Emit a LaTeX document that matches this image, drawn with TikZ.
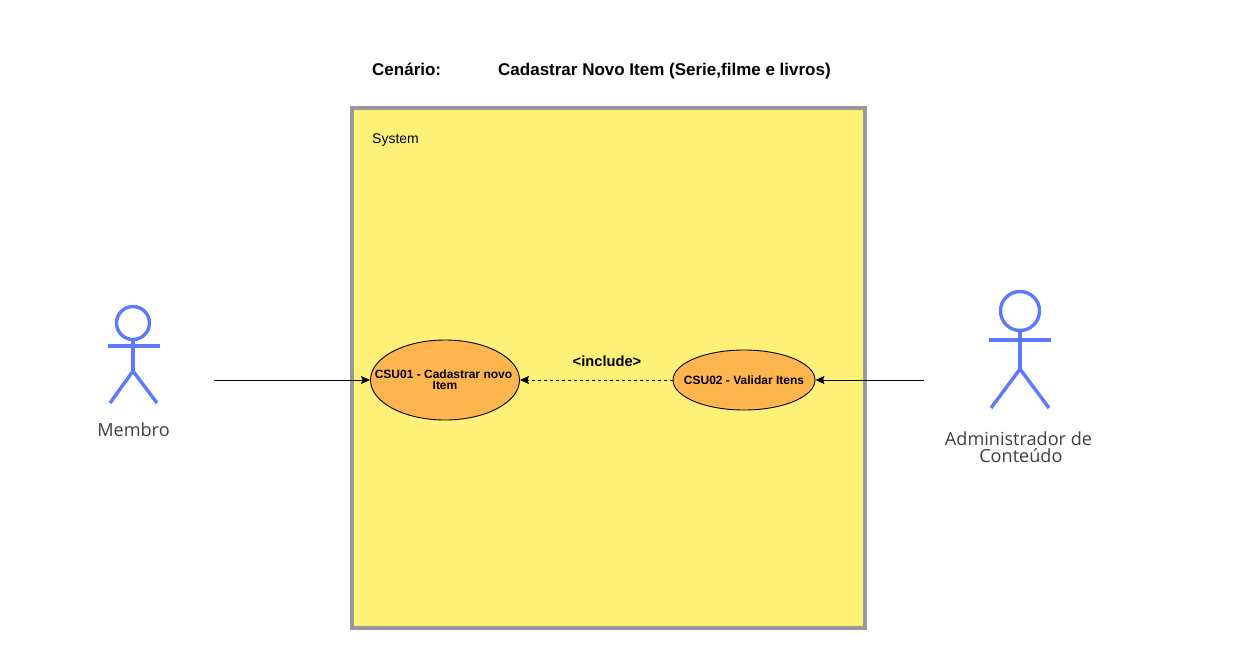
\documentclass[tikz,border=0pt]{standalone}
\usepackage{fontspec}
\setmainfont{Liberation Sans}
\newfontfamily\actorfont{Open Sans}
\usetikzlibrary{arrows.meta,shapes.geometric}
\definecolor{sysfill}{RGB}{255,241,120}
\definecolor{sysline}{RGB}{153,153,153}
\definecolor{casefill}{RGB}{255,181,77}
\definecolor{actorline}{RGB}{92,122,255}
\definecolor{actortext}{RGB}{64,64,64}
\tikzset{
  usecase/.style={draw=black,fill=casefill,ellipse,inner ysep=0pt,inner xsep=-20pt,line width=0.9pt,align=center,font=\fontsize{12}{12}\selectfont\bfseries},
  actor/.style={draw=actorline,line width=3.4pt},
  actorlabel/.style={text=actortext,align=center,inner sep=0pt,font=\actorfont\fontsize{18.1}{18}\selectfont},
  assoc/.style={-{Stealth[length=9pt,width=8pt,inset=1.5pt]},line width=0.8pt},
  titletext/.style={anchor=base west,inner sep=0pt,font=\fontsize{17}{18}\selectfont\bfseries},
}
\begin{document}
\begin{tikzpicture}[x=1pt,y=-1pt]
      \useasboundingbox (0,0) rectangle (1250,665);
      % system box
      \draw[draw=sysline,fill=sysfill,line width=4pt] (352,108) rectangle (865,628);
      \node[anchor=base west,inner sep=0pt,font=\fontsize{14}{16}\selectfont] (system) at (372,143) {System};
      \node[titletext] (cenario) at (372,75) {Cenário:};
      \node[titletext] (titulo) at (498,75) {Cadastrar Novo Item (Serie,filme e livros)};
      % use cases
      \node[usecase,minimum width=149pt,minimum height=80pt] (csu01) at (445,380) {CSU01 - Cadastrar novo\hspace*{3pt}\\[-1pt]Item};
      \node[usecase,minimum width=142pt,minimum height=60pt] (csu02) at (744,380) {CSU02 - Validar Itens};
      \node[inner sep=0pt,font=\fontsize{14.7}{16}\selectfont\bfseries] (include) at (607,361) {<include>};
      % left actor
      \draw[actor] (133,323) circle (16.5);
      \draw[actor] (108,346) -- (160,346);
      \draw[actor] (133,340) -- (133,371);
      \draw[actor] (110,403) -- (133,371) -- (157,403);
      \node[actorlabel] (membro) at (133.5,430) {Membro};
      % right actor
      \draw[actor] (1020,311) circle (19.5);
      \draw[actor] (989,340) -- (1051,340);
      \draw[actor] (1020,331) -- (1020,369);
      \draw[actor] (991,408) -- (1020,369) -- (1049,408);
      \node[actorlabel] (admin) at (1018.5,447) {Administrador de\\[-1pt]\ Conteúdo};
      % connectors
      \coordinate (membroEnd) at (214,380);
      \coordinate (adminEnd) at (924,380);
      \draw[assoc] (membroEnd) -- (csu01.west);
      \draw[assoc] (adminEnd) -- (csu02.east);
      \draw[assoc,dashed] (csu02.west) -- (csu01.east);
\end{tikzpicture}
\end{document}
